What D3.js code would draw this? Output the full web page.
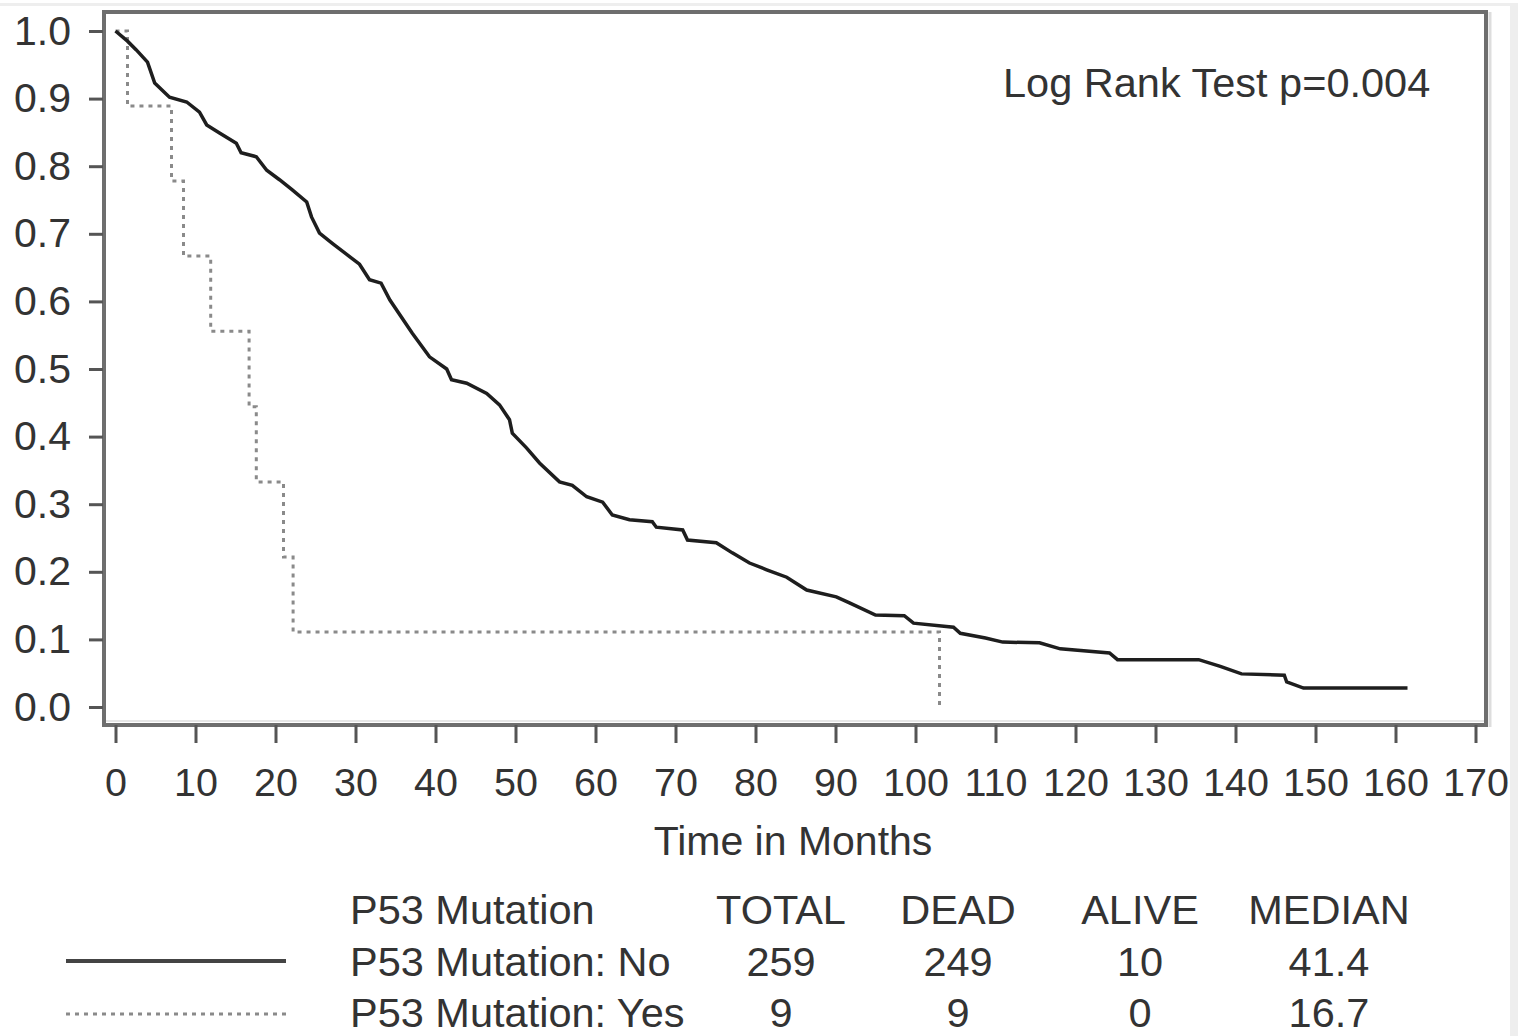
<!DOCTYPE html>
<html>
<head>
<meta charset="utf-8">
<script src="https://cdn.jsdelivr.net/npm/d3@7/dist/d3.min.js"></script>
<style>
  html, body { margin: 0; padding: 0; background: #fff; }
  svg { display: block; }
  text { font-family: "Liberation Sans", Arial, Helvetica, sans-serif; fill: #333; }
</style>
</head>
<body>
<svg id="chart" width="1518" height="1036"></svg>
<script>
// Kaplan-Meier survival, P53 mutation No (solid) — [months, survival]
const noTimes = [0, 1.5, 2.6, 4.0, 4.9, 6.75, 8.9, 10.5, 11.4, 13.0, 15.1, 15.7, 17.6, 18.9, 20.5,
  22.1, 23.9, 24.5, 25.5, 27.1, 29.3, 30.5, 31.75, 33.2, 34.3, 37.1, 39.25, 41.4, 42.0, 43.9,
  46.4, 48.0, 49.25, 49.6, 51.4, 53.0, 55.5, 57.1, 58.9, 60.9, 62.1, 64.25, 67.1, 67.6, 70.9,
  71.5, 75.1, 77.1, 79.25, 81.4, 83.9, 86.4, 90.1, 91.75, 95.0, 98.6, 99.75, 104.75, 105.6,
  108.75, 110.9, 115.5, 118.1, 124.25, 125.25, 135.4, 138.1, 140.75, 146.1, 146.4, 148.5, 161.5];
const noSurv = [1.0, 0.985, 0.972, 0.954, 0.923, 0.902, 0.895, 0.88, 0.861, 0.849, 0.834, 0.82, 0.814, 0.794, 0.78,
  0.765, 0.747, 0.725, 0.701, 0.686, 0.666, 0.655, 0.632, 0.627, 0.602, 0.553, 0.518, 0.50, 0.484, 0.479,
  0.464, 0.447, 0.425, 0.405, 0.383, 0.361, 0.333, 0.328, 0.311, 0.303, 0.284, 0.277, 0.274, 0.266, 0.262,
  0.247, 0.243, 0.228, 0.213, 0.203, 0.192, 0.173, 0.163, 0.154, 0.136, 0.135, 0.124, 0.118, 0.109,
  0.102, 0.096, 0.095, 0.086, 0.080, 0.070, 0.070, 0.060, 0.049, 0.047, 0.037, 0.028, 0.028];

// P53 mutation Yes (dotted), step function — survival from each time onward
const yesTimes = [0, 1.5, 7.0, 8.5, 11.9, 16.7, 17.6, 21.0, 22.2, 103.0];
const yesSurv  = [1.0, 0.889, 0.778, 0.667, 0.556, 0.444, 0.333, 0.222, 0.111, 0.0];

const xTicks = [0, 10, 20, 30, 40, 50, 60, 70, 80, 90, 100, 110, 120, 130, 140, 150, 160, 170];
const yTicks = [0, 0.1, 0.2, 0.3, 0.4, 0.5, 0.6, 0.7, 0.8, 0.9, 1.0];

// Summary table
const tableHeader = ["P53 Mutation", "TOTAL", "DEAD", "ALIVE", "MEDIAN"];
const groupNames = ["P53 Mutation: No", "P53 Mutation: Yes"];
const totals = [259, 9];
const dead = [249, 9];
const alive = [10, 0];
const medians = ["41.4", "16.7"];
const pValueText = "Log Rank Test p=0.004";

const svg = d3.select("#chart");

// page edge
svg.append("rect").attr("x", 0).attr("y", 3).attr("width", 1518).attr("height", 3).attr("fill", "#eeeeee");
svg.append("rect").attr("x", 1510).attr("y", 3).attr("width", 8).attr("height", 1033).attr("fill", "#eeeeee");

const frame = { left: 104, right: 1486, top: 12, bottom: 725 };
const x = d3.scaleLinear().domain([0, 170]).range([115.5, 1475.5]);
const y = d3.scaleLinear().domain([0, 1]).range([707, 31]);

// plot frame
svg.append("line").attr("x1", frame.left).attr("x2", frame.right).attr("y1", frame.bottom - 4).attr("y2", frame.bottom - 4)
  .attr("stroke", "#e6e6e6").attr("stroke-width", 2);
svg.append("line").attr("x1", frame.right + 4).attr("x2", frame.right + 4).attr("y1", frame.top).attr("y2", frame.bottom + 2)
  .attr("stroke", "#dddddd").attr("stroke-width", 3);
svg.append("rect")
  .attr("x", frame.left).attr("y", frame.top)
  .attr("width", frame.right - frame.left).attr("height", frame.bottom - frame.top)
  .attr("fill", "none").attr("stroke", "#6e6e6e").attr("stroke-width", 4);

// y axis
const yAxis = d3.axisLeft(y).tickValues(yTicks).tickFormat(d3.format(".1f")).tickSize(14).tickPadding(18);
const gy = svg.append("g").attr("transform", `translate(${frame.left - 1},0)`).call(yAxis);
gy.select(".domain").remove();
gy.selectAll(".tick line").attr("stroke", "#555").attr("stroke-width", 3);
gy.selectAll(".tick text").attr("font-size", 41).attr("fill", "#333");

// x axis
const xAxis = d3.axisBottom(x).tickValues(xTicks).tickFormat(d3.format("d")).tickSize(18).tickPadding(25);
const gx = svg.append("g").attr("transform", `translate(0,${frame.bottom})`).call(xAxis);
gx.select(".domain").remove();
gx.selectAll(".tick line").attr("stroke", "#555").attr("stroke-width", 3);
gx.selectAll(".tick text").attr("font-size", 39.5).attr("fill", "#333");

// axis title
svg.append("text").attr("x", 793).attr("y", 855).attr("text-anchor", "middle")
  .attr("font-size", 41).text("Time in Months");

// log rank annotation
svg.append("text").attr("x", 1003).attr("y", 97).attr("font-size", 41.5).text(pValueText);

// survival curves
const noData = noTimes.map((t, i) => [t, noSurv[i]]);
const yesData = yesTimes.map((t, i) => [t, yesSurv[i]]);

const solidLine = d3.line().x(d => x(d[0])).y(d => y(d[1])).curve(d3.curveLinear);
const stepLine = d3.line().x(d => x(d[0])).y(d => y(d[1])).curve(d3.curveStepAfter);

svg.append("path").datum(yesData).attr("d", stepLine)
  .attr("fill", "none").attr("stroke", "#8a8a8a").attr("stroke-width", 3)
  .attr("stroke-dasharray", "4,5");

svg.append("path").datum(noData).attr("d", solidLine)
  .attr("fill", "none").attr("stroke", "#1e1e1e").attr("stroke-width", 3.5)
  .attr("stroke-linejoin", "miter");

// legend table
const colX = [350, 781, 958, 1140, 1329];
const rowY = [924, 976, 1027];
const lg = svg.append("g");
tableHeader.forEach((h, i) => {
  lg.append("text").attr("x", colX[i]).attr("y", rowY[0])
    .attr("text-anchor", i === 0 ? "start" : "middle").attr("font-size", 41.5).text(h);
});
const rows = groupNames.map((g, i) => [g, totals[i], dead[i], alive[i], medians[i]]);
rows.forEach((r, ri) => {
  r.forEach((v, ci) => {
    lg.append("text").attr("x", colX[ci]).attr("y", rowY[ri + 1])
      .attr("text-anchor", ci === 0 ? "start" : "middle").attr("font-size", 41.5).text(v);
  });
});
lg.append("line").attr("x1", 66).attr("x2", 286).attr("y1", 961).attr("y2", 961)
  .attr("stroke", "#444").attr("stroke-width", 4);
lg.append("line").attr("x1", 66).attr("x2", 286).attr("y1", 1014).attr("y2", 1014)
  .attr("stroke", "#8a8a8a").attr("stroke-width", 3).attr("stroke-dasharray", "4,5");
</script>
</body>
</html>
